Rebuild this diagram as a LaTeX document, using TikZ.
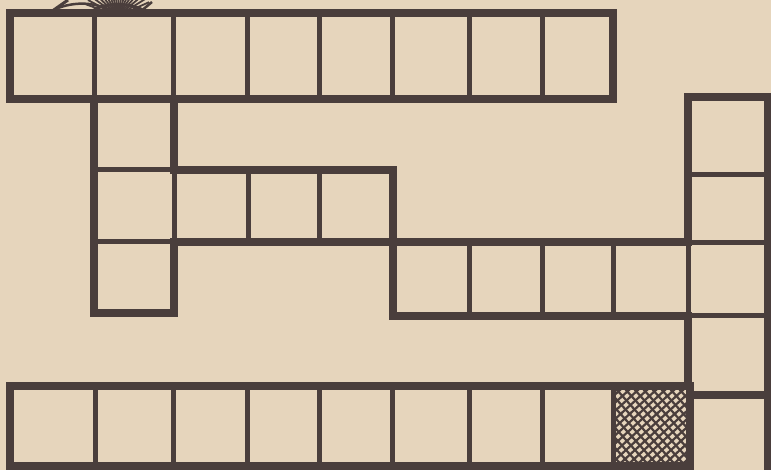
\documentclass[tikz,border=0pt]{standalone}
\usetikzlibrary{calc}
\definecolor{paper}{RGB}{230,213,188}
\definecolor{ink}{RGB}{74,62,60}
\tikzset{
  cl/.style={draw=ink, line width=5pt, line join=miter},
  ol/.style={draw=ink, line width=7.5pt, line join=miter, line cap=rect},
  hatch/.style={draw=ink, line width=2.2pt}
}
\begin{document}
\begin{tikzpicture}[x=1pt,y=-1pt]
\fill[paper] (0,0) rectangle (771,470);
\useasboundingbox (0,0) rectangle (771,470);
\begin{scope}
\clip (0,0) rectangle (771,470);
% hatched cell
\begin{scope}
\clip (613,390) rectangle (690,468);
\foreach \k in {500,509,...,710}{
  \draw[hatch] (\k,380) -- (\k+90,480);
  \draw[hatch] (\k+3,480) -- (\k+113,380);
}
\end{scope}
% emblem at top
\begin{scope}
\clip (0,0) rectangle (771,13);
\draw[ink, line width=3pt] (48,14) -- (68,0);
\draw[ink, line width=2.5pt] (58,8) .. controls (80,0) and (100,4) .. (112,12);
\foreach \ang in {20,28,...,160}{
  \draw[ink, line width=1.8pt] (118,16) -- ++(\ang:-34);
}
\draw[ink, line width=3pt] (92,12) .. controls (100,2) and (135,2) .. (145,12);
\draw[ink, line width=2.5pt] (140,12) -- (152,2);
\end{scope}
% top row
\foreach \a/\c in {10/94,94/173,173/247,247/319,319/392,392/469,469/542,542/613}
  \draw[cl] (\a,13) rectangle (\c,99);
% column 2
\foreach \b/\d in {99/170,170/242,242/313}
  \draw[cl] (94,\b) rectangle (174,\d);
% row 3
\foreach \a/\c in {174/248,248/319,319/393}
  \draw[cl] (\a,170) rectangle (\c,242);
% row 4
\foreach \a/\c in {393/469,469/542,542/613,613/688,688/768}
  \draw[cl] (\a,243) rectangle (\c,316);
% right column
\foreach \b/\d in {97/175,175/243,316/394}
  \draw[cl] (688,\b) rectangle (768,\d);
% bottom row
\foreach \a/\c in {10/95,95/173,173/247,247/319,319/392,392/469,469/542,542/613,613/690}
  \draw[cl] (\a,386) rectangle (\c,466);
\draw[cl] (690,395) rectangle (768,474);
% outlines
\draw[ol] (10,13) rectangle (613,99);
\draw[ol] (94,99) -- (94,313) -- (174,313) -- (174,242) -- (688,242);
\draw[ol] (174,99) -- (174,170) -- (393,170) -- (393,316) -- (688,316);
\draw[ol] (688,242) -- (688,97) -- (768,97) -- (768,474);
\draw[ol] (688,316) -- (688,386) -- (10,386) -- (10,466) -- (690,466);
\draw[ol] (690,386) -- (690,474);
\draw[ol] (690,395) -- (768,395);
\end{scope}
\end{tikzpicture}
\end{document}
